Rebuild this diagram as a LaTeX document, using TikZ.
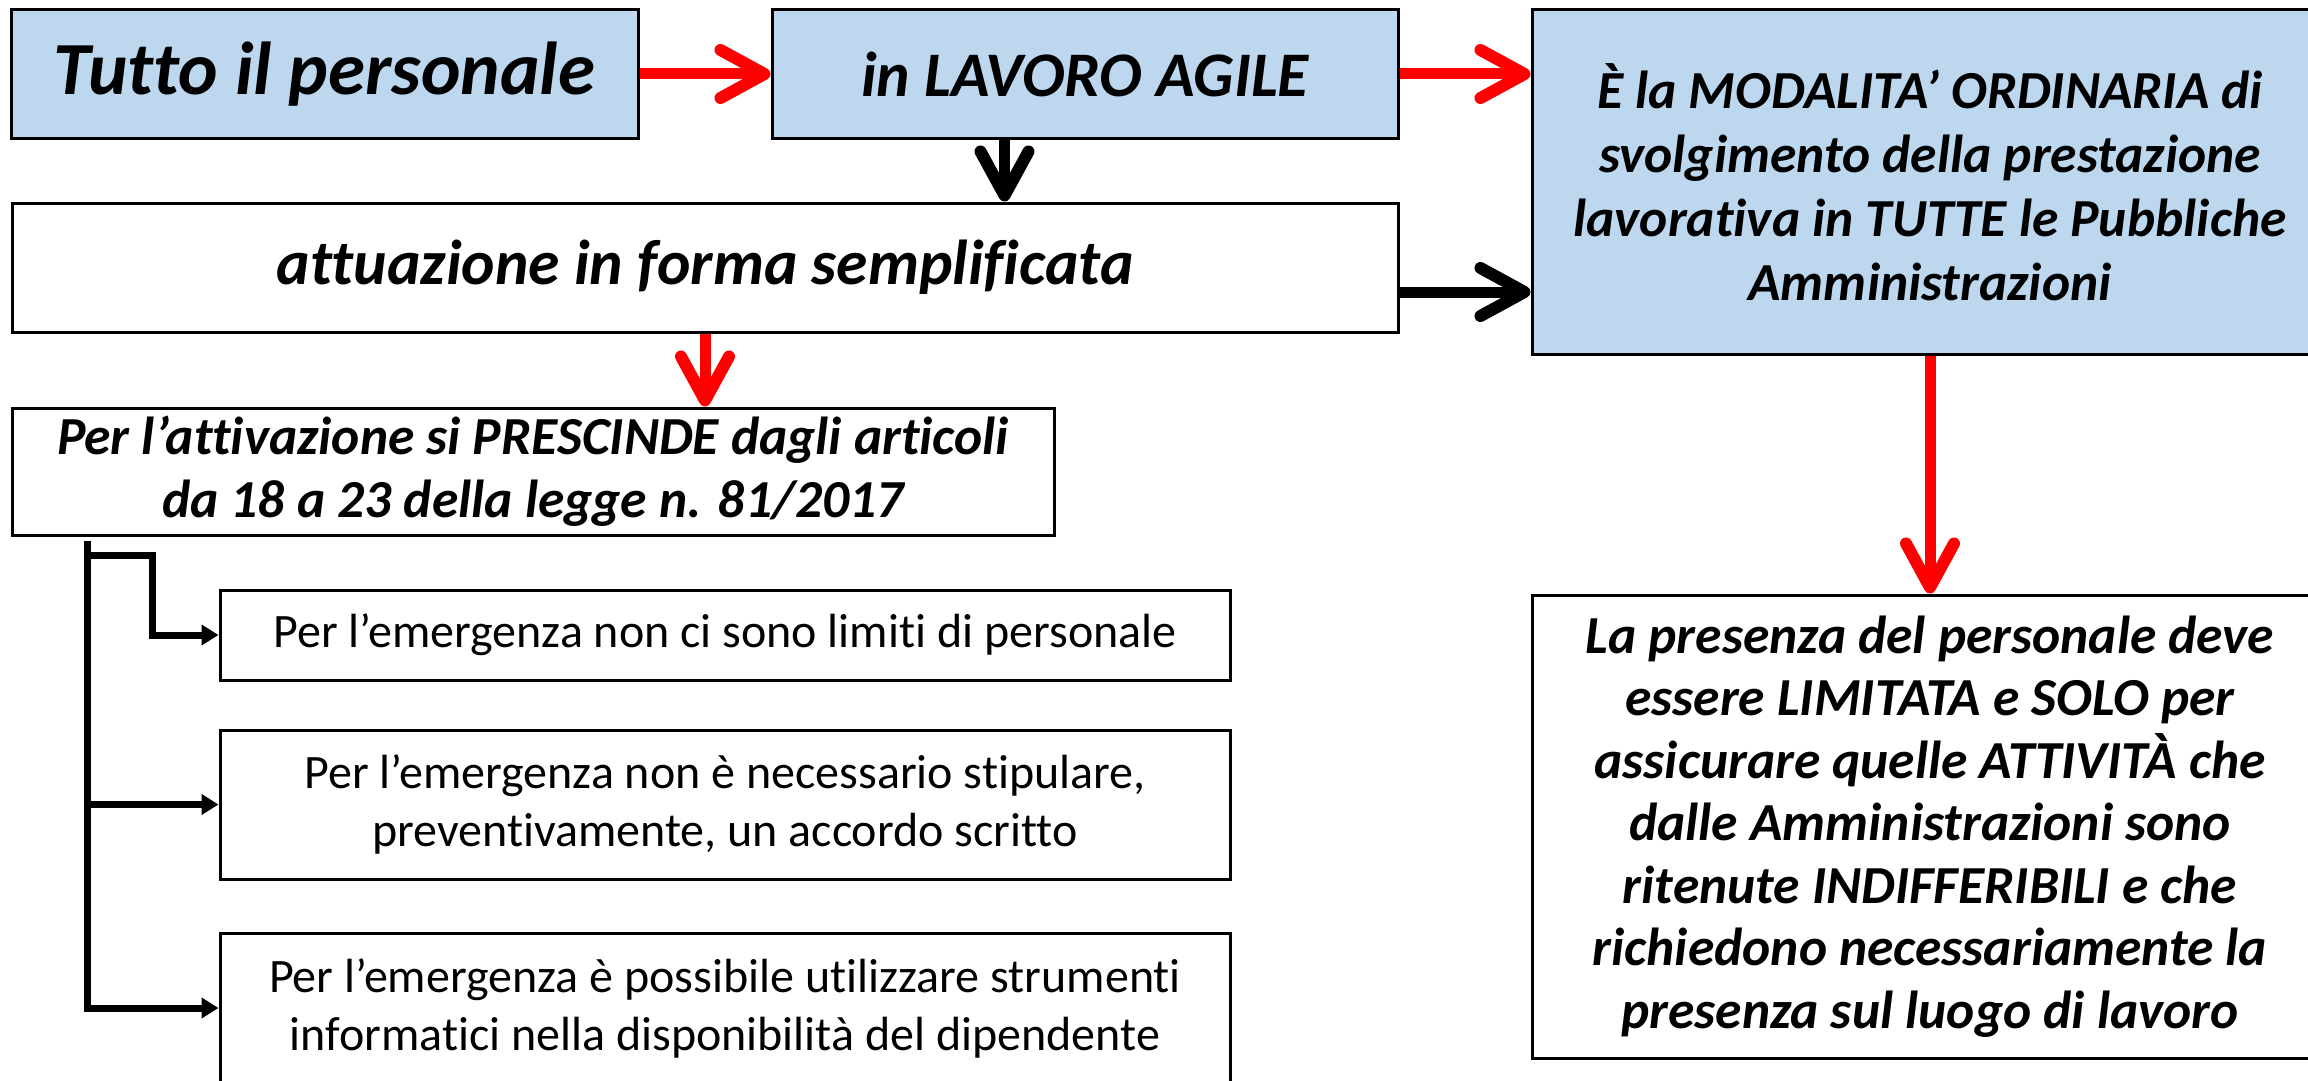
\documentclass[tikz,border=0pt]{standalone}
\usepackage{fontspec}
\setmainfont{Carlito}[Ligatures=NoCommon]
\usetikzlibrary{arrows.meta}
\definecolor{boxblue}{HTML}{BDD7EE}
\definecolor{arrred}{HTML}{FF0000}
\newcommand{\fsz}[2]{\fontsize{#1}{#2}\selectfont}
\begin{document}
\begin{tikzpicture}[x=1pt,y=-1pt,
  box/.style={draw=black, line width=3pt, rectangle, inner sep=0pt, align=center},
  bluebox/.style={box, fill=boxblue},
  whitebox/.style={box, fill=white},
  bigarrow/.style={line width=11pt, -{Straight Barb[length=44pt,width=48pt,line width=12pt,round]}},
  redarrow/.style={bigarrow, draw=arrred},
  blackarrow/.style={bigarrow, draw=black},
  treeline/.style={line width=7pt, draw=black, line join=miter},
  treearrow/.style={treeline, -{Triangle[length=17pt,width=20pt]}},
  bi/.style={font=\fsz{#1}{1.2*#1}\bfseries\itshape},
  bis/.style 2 args={font=\fsz{#1}{#2}\bfseries\itshape},
  rg/.style 2 args={font=\fsz{#1}{#2}}
]
\useasboundingbox (0,0) rectangle (2308,1081);
\clip (0,0) rectangle (2308,1081);
\fill[white] (0,0) rectangle (2308,1081);

\node[bluebox, bis={75}{90}, minimum width=627pt, minimum height=128pt] (b1) at (324.5,74)
  {Tutto il personale};
\node[bluebox, bis={63.5}{76}, minimum width=626pt, minimum height=128pt] (b2) at (1085,74)
  {in LAVORO AGILE};
\node[whitebox, bis={63.5}{76}, minimum width=1386pt, minimum height=129pt] (b3) at (705,267.5)
  {attuazione in forma semplificata};
\node[bluebox, bis={53.5}{64}, minimum width=796pt, minimum height=344pt] (b4) at (1930,182)
  {È la MODALITA’ ORDINARIA di\\
   svolgimento della prestazione\\
   lavorativa in TUTTE le Pubbliche\\
   Amministrazioni};
\node[whitebox, bis={53.5}{62.5}, minimum width=796pt, minimum height=463pt] (b5) at (1930,826.5)
  {La presenza del personale deve\\
   essere LIMITATA e SOLO per\\
   assicurare quelle ATTIVITÀ che\\
   dalle Amministrazioni sono\\
   ritenute INDIFFERIBILI e che\\
   richiedono necessariamente la\\
   presenza sul luogo di lavoro};
\node[whitebox, bis={53.5}{63}, minimum width=1042pt, minimum height=127pt] (b6) at (533,471.5)
  {Per l’attivazione si PRESCINDE dagli articoli\\
   da 18 a 23 della legge n. 81/2017};
\node[whitebox, rg={48}{58}, minimum width=1010pt, minimum height=90pt] (b7) at (725,635)
  {Per l’emergenza non ci sono limiti di personale};
\node[whitebox, rg={48}{58}, minimum width=1010pt, minimum height=149pt] (b8) at (725,804.5)
  {Per l’emergenza non è necessario stipulare,\\
   preventivamente, un accordo scritto};
\node[whitebox, rg={48}{58}, minimum width=1010pt, minimum height=150pt] (b9) at (725,1008)
  {Per l’emergenza è possibile utilizzare strumenti\\
   informatici nella disponibilità del dipendente};

% main connectors
\draw[redarrow] (b1.east) -- (b2.west);
\draw[redarrow] (b2.east) -- (b2.east -| b4.west);
\draw[blackarrow] ([xshift=234pt]b2.south west) -- ([xshift=234pt]b2.south west |- b3.north);
\draw[blackarrow] ([yshift=-24.5pt]b3.east) -- ([yshift=-24.5pt]b3.east -| b4.west);
\draw[redarrow] (b3.south) -- (b3.south |- b6.north);
\draw[redarrow] (b4.south) -- (b5.north);

% tree
\coordinate (t0) at ([xshift=77pt,yshift=-4pt]b6.south west);
\coordinate (j1) at ([yshift=-15pt]t0);
\coordinate (k1) at ([xshift=65pt]j1);
\draw[treearrow] (t0) -- (t0 |- b9.west) -- (b9.west);
\draw[treearrow] (t0 |- b8.west) -- (b8.west);
\draw[treearrow] (j1) -- (k1) -- (k1 |- b7.west) -- (b7.west);
\end{tikzpicture}
\end{document}
